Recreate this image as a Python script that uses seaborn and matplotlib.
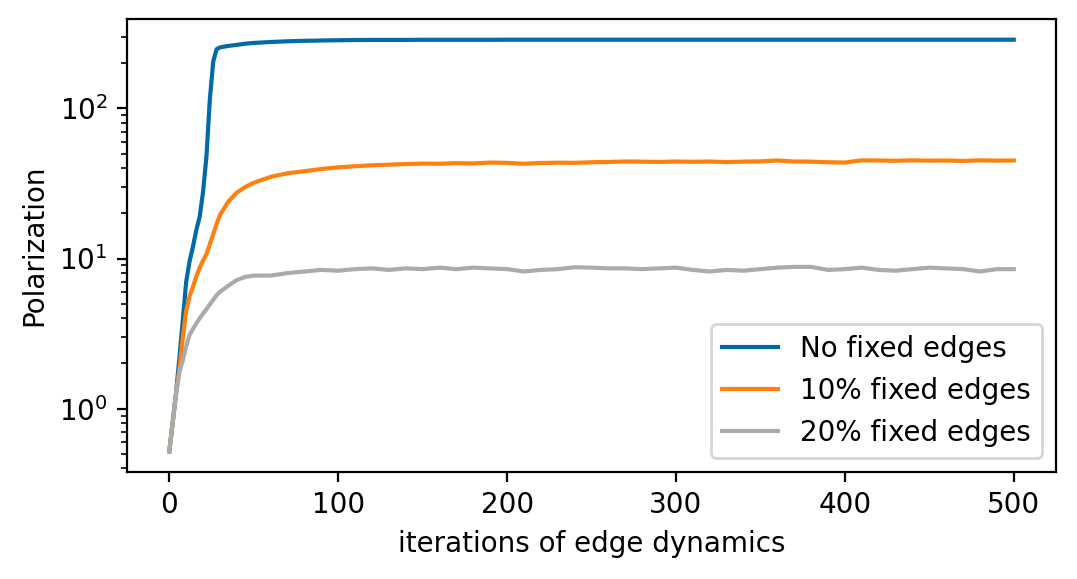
import numpy as np
import pandas as pd
import matplotlib
matplotlib.use("Agg")
import matplotlib.pyplot as plt
import seaborn as sns

# =====================================================================
# DATA
# =====================================================================
iterations = [0, 2, 4, 6, 8, 10, 12, 14, 16, 18, 20, 22, 24, 26, 28, 30,
              35, 40, 45, 50, 60, 70, 80, 90, 100,
              110, 120, 130, 140, 150, 160, 170, 180, 190, 200,
              210, 220, 230, 240, 250, 260, 270, 280, 290, 300,
              310, 320, 330, 340, 350, 360, 370, 380, 390, 400,
              410, 420, 430, 440, 450, 460, 470, 480, 490, 500]

no_fixed = [0.52, 0.81, 1.27, 2.2, 3.9, 7.0, 9.6, 12.0, 15.5, 19.0, 28.0, 48.0, 115.0, 205.0, 248.0, 255.0,
            261.0, 265.0, 270.0, 273.0, 277.0, 280.0, 282.0, 283.5, 284.5,
            285.5, 286.0, 286.0, 286.0, 286.5, 286.5, 286.5, 286.5, 286.5, 287.0,
            287.0, 287.0, 287.0, 287.0, 287.0, 287.0, 287.0, 287.0, 287.0, 287.0,
            287.0, 287.0, 287.0, 287.0, 287.0, 287.0, 287.0, 287.0, 287.0, 287.0,
            287.0, 287.0, 287.0, 287.0, 287.0, 287.0, 287.0, 287.0, 287.0, 287.0]

fixed_10 = [0.52, 0.81, 1.27, 1.85, 3.0, 4.5, 5.6, 6.5, 7.6, 8.7, 9.7, 10.7, 12.5, 14.5, 17.0, 19.5,
            24.0, 27.5, 30.0, 32.0, 35.0, 37.0, 38.2, 39.5, 40.5,
            41.2, 41.8, 42.2, 42.6, 42.9, 42.8, 43.2, 43.0, 43.6, 43.4,
            42.8, 43.3, 43.5, 43.4, 43.8, 44.0, 44.3, 44.2, 44.0, 44.3,
            44.1, 44.3, 43.9, 44.2, 44.4, 45.0, 44.3, 44.2, 43.8, 43.6,
            45.1, 45.0, 44.8, 45.1, 44.9, 45.0, 44.7, 45.1, 44.9, 45.0]

fixed_20 = [0.52, 0.81, 1.25, 1.75, 2.1, 2.6, 3.1, 3.4, 3.7, 4.0, 4.3, 4.6, 4.95, 5.3, 5.7, 6.0,
            6.6, 7.2, 7.55, 7.7, 7.7, 8.0, 8.2, 8.4, 8.3,
            8.5, 8.6, 8.4, 8.6, 8.5, 8.7, 8.5, 8.7, 8.6, 8.5,
            8.2, 8.4, 8.5, 8.75, 8.7, 8.6, 8.6, 8.5, 8.6, 8.7,
            8.4, 8.2, 8.4, 8.3, 8.5, 8.7, 8.8, 8.8, 8.4, 8.5,
            8.7, 8.4, 8.3, 8.5, 8.7, 8.6, 8.5, 8.2, 8.5, 8.5]

labels = ["No fixed edges", "10% fixed edges", "20% fixed edges"]
colors = ["#006BA4", "#FF800E", "#ABABAB"]

# =====================================================================
# PLOT
# =====================================================================
fig, ax = plt.subplots(figsize=(5.385, 2.895), dpi=200)
fig.subplots_adjust(left=0.118, right=0.9805, top=0.967, bottom=0.185)

for series, label, color in zip([no_fixed, fixed_10, fixed_20], labels, colors):
    df = pd.DataFrame({"iteration": iterations, "polarization": series})
    sns.lineplot(data=df, x="iteration", y="polarization", color=color,
                 label=label, linewidth=1.5, ax=ax)

ax.set_yscale("log")
ax.set_xlabel("iterations of edge dynamics")
ax.set_ylabel("Polarization")
ax.legend(loc="lower right")

fig.savefig("out.png", dpi=200)
